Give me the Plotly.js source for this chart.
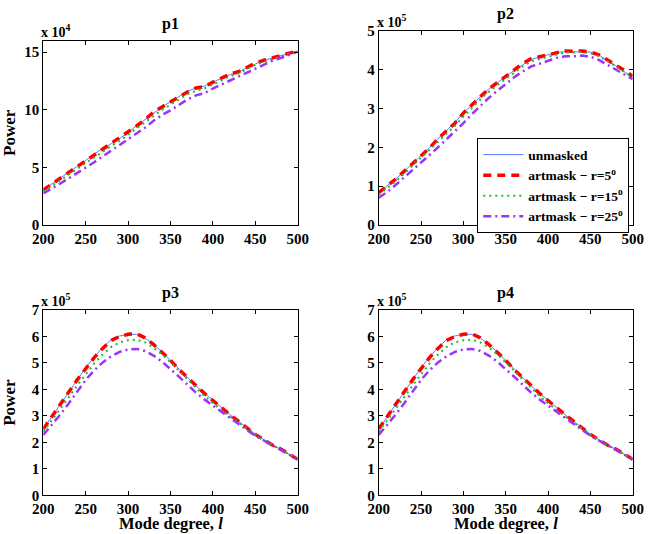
<!DOCTYPE html>
<html>
<head>
<meta charset="utf-8">
<script src="https://cdn.plot.ly/plotly-3.0.1.min.js"></script>
<style>html,body{margin:0;padding:0;background:#fff;}#chart{width:648px;height:534px;}</style>
</head>
<body>
<div id="chart"></div>
<script>
// Mode degree l
const degrees = [200,210,220,230,240,250,260,270,280,290,300,310,320,330,340,350,360,370,380,390,400,410,420,430,440,450,460,470,480,490,500];
const seriesNames = ['unmasked', 'artmask \u2212 r=5<sup>o</sup>', 'artmask \u2212 r=15<sup>o</sup>', 'artmask \u2212 r=25<sup>o</sup>'];
const panelTitles = ['p1', 'p2', 'p3', 'p4'];
const exponents = [4, 5, 5, 5];
const xTicks = [200,250,300,350,400,450,500];
const xTitle = 'Mode degree, <i>l</i>';
const yTitle = 'Power';

// p1 (x 10^4)
const p1_unmasked = [3.05,3.55,4.05,4.55,5.05,5.60,6.15,6.65,7.05,7.50,8.05,8.60,9.15,9.75,10.25,10.70,11.15,11.60,11.90,12.05,12.40,12.75,13.05,13.30,13.65,14.00,14.30,14.50,14.70,14.90,15.10];
const p1_r5  = [3.05,3.55,4.05,4.55,5.05,5.60,6.10,6.60,7.10,7.55,8.05,8.60,9.15,9.80,10.25,10.70,11.15,11.55,11.90,12.00,12.40,12.75,13.10,13.30,13.65,14.05,14.30,14.50,14.70,14.90,15.12];
const p1_r15 = [2.90,3.40,3.90,4.40,4.85,5.35,5.85,6.35,6.85,7.30,7.85,8.35,8.90,9.50,10.00,10.45,10.90,11.35,11.65,11.85,12.20,12.55,12.90,13.15,13.50,13.90,14.15,14.40,14.65,14.85,15.08];
const p1_r25 = [2.75,3.15,3.60,4.05,4.50,4.98,5.45,5.95,6.45,6.90,7.45,7.95,8.45,9.05,9.55,9.95,10.45,10.90,11.25,11.45,11.85,12.20,12.55,12.85,13.20,13.60,13.95,14.25,14.50,14.80,15.05];

// p2 (x 10^5)
const p2_unmasked = [0.84,1.00,1.18,1.38,1.58,1.78,1.99,2.22,2.43,2.64,2.88,3.10,3.30,3.50,3.66,3.83,3.98,4.12,4.26,4.32,4.38,4.44,4.46,4.46,4.46,4.45,4.37,4.24,4.10,3.95,3.78];
const p2_r5  = [0.83,1.00,1.18,1.38,1.58,1.78,1.98,2.22,2.42,2.62,2.88,3.10,3.30,3.50,3.66,3.82,3.98,4.15,4.28,4.33,4.38,4.45,4.48,4.47,4.48,4.45,4.38,4.25,4.12,3.98,3.83];
const p2_r15 = [0.78,0.95,1.12,1.32,1.52,1.72,1.92,2.14,2.35,2.55,2.79,3.02,3.23,3.43,3.59,3.76,3.92,4.08,4.21,4.27,4.33,4.40,4.44,4.44,4.45,4.42,4.35,4.22,4.08,3.95,3.80];
const p2_r25 = [0.70,0.85,1.03,1.22,1.40,1.60,1.80,2.00,2.20,2.40,2.62,2.85,3.07,3.27,3.45,3.63,3.80,3.95,4.08,4.15,4.22,4.30,4.34,4.34,4.36,4.33,4.25,4.12,4.00,3.88,3.75];

// p3 (x 10^5)
const p3_unmasked = [2.50,2.97,3.44,3.92,4.38,4.82,5.22,5.58,5.88,6.02,6.08,6.08,5.94,5.70,5.42,5.10,4.76,4.45,4.13,3.86,3.58,3.30,3.05,2.80,2.55,2.31,2.10,1.91,1.75,1.55,1.36];
const p3_r5  = [2.50,2.95,3.42,3.90,4.36,4.80,5.20,5.55,5.85,6.00,6.08,6.10,5.95,5.70,5.42,5.10,4.75,4.45,4.12,3.85,3.58,3.30,3.05,2.80,2.55,2.30,2.10,1.90,1.75,1.55,1.36];
const p3_r15 = [2.40,2.82,3.25,3.70,4.15,4.58,4.98,5.32,5.60,5.78,5.86,5.88,5.78,5.58,5.32,5.02,4.70,4.38,4.05,3.75,3.48,3.22,2.98,2.75,2.52,2.28,2.08,1.90,1.74,1.55,1.36];
const p3_r25 = [2.28,2.65,3.05,3.47,3.92,4.36,4.72,5.02,5.25,5.42,5.51,5.53,5.45,5.28,5.05,4.78,4.48,4.18,3.88,3.62,3.38,3.15,2.93,2.70,2.48,2.25,2.07,1.89,1.73,1.55,1.36];

// p4 (x 10^5)
const p4_unmasked = [2.50,2.97,3.44,3.92,4.38,4.82,5.22,5.58,5.88,6.02,6.08,6.08,5.94,5.70,5.42,5.10,4.76,4.45,4.13,3.86,3.58,3.30,3.05,2.80,2.55,2.31,2.10,1.91,1.75,1.55,1.36];
const p4_r5  = [2.50,2.95,3.42,3.90,4.36,4.80,5.20,5.55,5.85,6.00,6.08,6.10,5.95,5.70,5.42,5.10,4.75,4.45,4.12,3.85,3.58,3.30,3.05,2.80,2.55,2.30,2.10,1.90,1.75,1.55,1.36];
const p4_r15 = [2.40,2.82,3.25,3.70,4.15,4.58,4.98,5.32,5.60,5.78,5.86,5.88,5.78,5.58,5.32,5.02,4.70,4.38,4.05,3.75,3.48,3.22,2.98,2.75,2.52,2.28,2.08,1.90,1.74,1.55,1.36];
const p4_r25 = [2.28,2.65,3.05,3.47,3.92,4.36,4.72,5.02,5.25,5.42,5.51,5.53,5.45,5.28,5.05,4.78,4.48,4.18,3.88,3.62,3.38,3.15,2.93,2.70,2.48,2.25,2.07,1.89,1.73,1.55,1.36];

const yRanges = [[0,16],[0,5],[0,7],[0,7]];
const yTicks = [[0,5,10,15],[0,1,2,3,4,5],[0,1,2,3,4,5,6,7],[0,1,2,3,4,5,6,7]];

const panels = [
  [p1_unmasked, p1_r5, p1_r15, p1_r25],
  [p2_unmasked, p2_r5, p2_r15, p2_r25],
  [p3_unmasked, p3_r5, p3_r15, p3_r25],
  [p4_unmasked, p4_r5, p4_r15, p4_r25]
];

const W = 648, H = 534;
// axes boxes in pixels [left, right, top, bottom]
const boxes = [
  [43.3, 297.7, 40.7, 225],
  [378.7, 632.7, 30.7, 225],
  [43.3, 297.7, 310, 495.3],
  [378.7, 632.7, 310, 495.3]
];

const lineStyles = [
  {color:'#5a7dff', width:1, dash:'solid'},
  {color:'#ff0000', width:3.5, dash:'8px,6px'},
  {color:'#22bb22', width:2, dash:'2px,4px'},
  {color:'#9933ff', width:2.5, dash:'8px,4px,2px,4px'}
];

const FONT = '"Liberation Serif", "Times New Roman", serif';
const traces = [];
panels.forEach((series, p) => {
  series.forEach((vals, s) => {
    traces.push({
      x: degrees, y: vals, type: 'scatter', mode: 'lines',
      name: seriesNames[s],
      line: Object.assign({}, lineStyles[s]),
      xaxis: 'x' + (p === 0 ? '' : p + 1),
      yaxis: 'y' + (p === 0 ? '' : p + 1),
      showlegend: p === 1,
      legendrank: s
    });
  });
});

const layout = {
  width: W, height: H,
  margin: {l:0, r:0, t:0, b:0},
  paper_bgcolor: '#fff', plot_bgcolor: '#fff',
  font: {family: FONT, size: 13, color: '#000', weight: 'bold'},
  showlegend: true,
  legend: {
    x: 477.3 / W, y: 1 - 138.3 / H, xanchor: 'left', yanchor: 'top',
    bgcolor: '#fff', bordercolor: '#000', borderwidth: 1,
    font: {family: FONT, size: 13.5, color: '#000', weight: 'bold'},
    tracegroupgap: 0, itemwidth: 40, traceorder: 'normal'
  },
  annotations: []
};

boxes.forEach((b, p) => {
  const sfx = p === 0 ? '' : String(p + 1);
  const xd = [b[0] / W, b[1] / W];
  const yd = [1 - b[3] / H, 1 - b[2] / H];
  layout['xaxis' + sfx] = {
    domain: xd, range: [200, 500], anchor: 'y' + sfx,
    tickvals: xTicks, ticks: 'inside', ticklen: 4, tickcolor: '#000',
    showline: true, linecolor: '#000', linewidth: 1, mirror: 'ticks',
    showgrid: false, zeroline: false,
    tickfont: {family: FONT, size: 15, color: '#000', weight: 'bold'}
  };
  layout['yaxis' + sfx] = {
    domain: yd, range: yRanges[p], anchor: 'x' + sfx,
    tickvals: yTicks[p], ticks: 'inside', ticklen: 4, tickcolor: '#000',
    showline: true, linecolor: '#000', linewidth: 1, mirror: 'ticks',
    showgrid: false, zeroline: false,
    tickfont: {family: FONT, size: 15, color: '#000', weight: 'bold'},
    title: (p === 0 || p === 2) ? {text: yTitle, font: {family: FONT, size: 17, weight: 'bold'}} : {text: ''}
  };
  if (p >= 2) {
    layout.annotations.push({
      text: xTitle, xref: 'paper', yref: 'paper',
      x: (xd[0] + xd[1]) / 2, y: 0, xanchor: 'center', yanchor: 'bottom',
      borderpad: 0,
      showarrow: false, font: {family: FONT, size: 16.5, color: '#000', weight: 'bold'}
    });
  }
  layout.annotations.push({
    text: panelTitles[p], xref: 'paper', yref: 'paper',
    x: (xd[0] + xd[1]) / 2, y: yd[1] + 6 / H, xanchor: 'center', yanchor: 'bottom',
    showarrow: false, font: {family: FONT, size: 16, color: '#000', weight: 'bold'}
  });
  layout.annotations.push({
    text: 'x 10<sup>' + exponents[p] + '</sup>', xref: 'paper', yref: 'paper',
    x: xd[0] - 4 / W, y: yd[1] - 1 / H, xanchor: 'left', yanchor: 'bottom',
    showarrow: false, font: {family: FONT, size: 14, color: '#000', weight: 'bold'}
  });
});

Plotly.newPlot('chart', traces, layout, {displayModeBar: false, staticPlot: true});
</script>
</body>
</html>
